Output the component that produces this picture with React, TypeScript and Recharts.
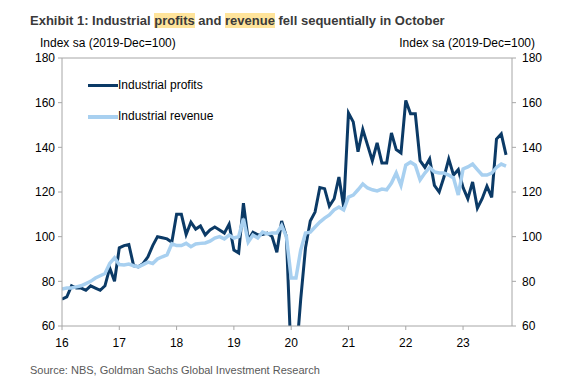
import React from "react";
import { LineChart, Line, XAxis, YAxis, ReferenceLine } from "recharts";

// monthly, Jan 2016 .. Oct 2023, index sa (2019-Dec=100)
const yearLabels = ["16", "17", "18", "19", "20", "21", "22", "23"];
const yTicks = [60, 80, 100, 120, 140, 160, 180];

const profits = [
  72, 73, 78, 77, 77, 76, 78, 77, 76, 78, 86, 80,
  95, 96, 96.5, 87, 86.5, 88, 91, 96, 100, 99.5, 99, 97.5,
  110, 110, 101, 106.5, 103.4, 104.8, 100.8, 103, 104.3, 103, 101.6, 105.6,
  94, 92.7, 115, 98.5, 102, 100.8, 101, 101.6, 100, 93, 107, 100,
  45, 45, 72, 95, 107, 111, 122, 121.5, 113.7, 117, 126.7, 113.3,
  155.4, 151.4, 138, 148, 141, 134, 142, 133, 133, 146.4, 139, 137.5,
  161, 155, 155, 134, 131, 134.8, 123, 120, 126.7, 134.8, 127.6, 130,
  122, 117, 124.5, 112.8, 117, 122.6, 117.6, 143.7, 146, 136.6,
];

const revenue = [
  76.5, 77, 77, 77.5, 78, 79, 80, 81.5, 82.5, 83.5, 88, 90.5,
  87.5, 87.3, 87.7, 87, 86.5, 87.5, 88.6, 88, 90, 91, 91.8, 96.8,
  96, 96, 97, 95.5, 96.7, 97, 97.2, 98, 99.4, 100, 99, 100.7,
  99.4, 100, 108, 97.6, 100.7, 99.4, 102, 101.2, 101.6, 101.6, 105, 100,
  81.5, 81.5, 94, 101.6, 102, 104.3, 106.5, 108.3, 109.7, 112, 113.3, 112,
  117.7, 118.6, 121, 123.6, 121.8, 121, 120.5, 121.3, 121, 124, 128.5, 123,
  132, 133.4, 132, 125.4, 128.5, 131, 129, 128.5, 128.5, 127.6, 126.3, 118.7,
  130.3, 131.2, 132.5, 130, 127.6, 127.6, 128.5, 131, 132.5, 131.6,
];

const data = profits.map((p, i) => ({ m: i, profits: p, revenue: revenue[i] }));
const xTicks = yearLabels.map((_, k) => k * 12);

const FONT = "'Liberation Sans', Arial, sans-serif";
const AXIS = "#a6a6a6";
const DARK = "#0b3a66";
const LIGHT = "#a8d0f0";
const hl = { background: "#ffe49b" };

export default function App() {
  const tick = { fontSize: 12, fill: "#000", fontFamily: FONT };
  return (
    <div style={{ position: "absolute", left: 0, top: 0, width: 587, height: 385, background: "#fff", fontFamily: FONT }}>
      <div style={{ position: "absolute", left: 30, top: 13, fontSize: 13, lineHeight: "16px", fontWeight: "bold", color: "#3a3a3a", whiteSpace: "nowrap" }}>
        Exhibit 1: Industrial <span style={hl}>profits</span> and <span style={hl}>revenue</span> fell sequentially in October
      </div>
      <div style={{ position: "absolute", left: 40, top: 36, fontSize: 12, lineHeight: "14px", color: "#000" }}>
        Index sa (2019-Dec=100)
      </div>
      <div style={{ position: "absolute", right: 52, top: 36, fontSize: 12, lineHeight: "14px", color: "#000" }}>
        Index sa (2019-Dec=100)
      </div>

      <div style={{ position: "absolute", left: 0, top: 0 }}>
        <LineChart width={587} height={385} data={data} margin={{ top: 58, right: 35, bottom: 34, left: 22 }}>
          <XAxis
            dataKey="m"
            type="number"
            domain={[0, 94.25]}
            ticks={xTicks}
            tickFormatter={(v) => yearLabels[v / 12]}
            tick={tick}
            tickSize={4}
            tickMargin={8}
            stroke={AXIS}
            height={25}
            allowDataOverflow
          />
          <YAxis
            yAxisId="left"
            domain={[60, 180]}
            ticks={yTicks}
            tick={tick}
            tickSize={4}
            tickMargin={3}
            stroke={AXIS}
            width={40}
            allowDataOverflow
          />
          <YAxis
            yAxisId="right"
            orientation="right"
            domain={[60, 180]}
            ticks={yTicks}
            tick={tick}
            tickSize={4}
            tickMargin={6}
            stroke={AXIS}
            width={40}
            allowDataOverflow
          />
          <ReferenceLine yAxisId="left" y={180} stroke={AXIS} />
          <Line yAxisId="left" type="linear" dataKey="profits" stroke={DARK} strokeWidth={3} dot={false} isAnimationActive={false} />
          <Line yAxisId="left" type="linear" dataKey="revenue" stroke={LIGHT} strokeWidth={3.5} dot={false} isAnimationActive={false} />
        </LineChart>
      </div>

      <div style={{ position: "absolute", left: 88, top: 84, width: 30, height: 3, background: DARK }} />
      <div style={{ position: "absolute", left: 118, top: 78, fontSize: 12, lineHeight: "14px", color: "#000" }}>Industrial profits</div>
      <div style={{ position: "absolute", left: 88, top: 115, width: 30, height: 4, background: LIGHT }} />
      <div style={{ position: "absolute", left: 118, top: 109, fontSize: 12, lineHeight: "14px", color: "#000" }}>Industrial revenue</div>

      <div style={{ position: "absolute", left: 30, top: 364, fontSize: 11, lineHeight: "13px", color: "#595959", whiteSpace: "nowrap" }}>
        Source: NBS, Goldman Sachs Global Investment Research
      </div>
    </div>
  );
}
